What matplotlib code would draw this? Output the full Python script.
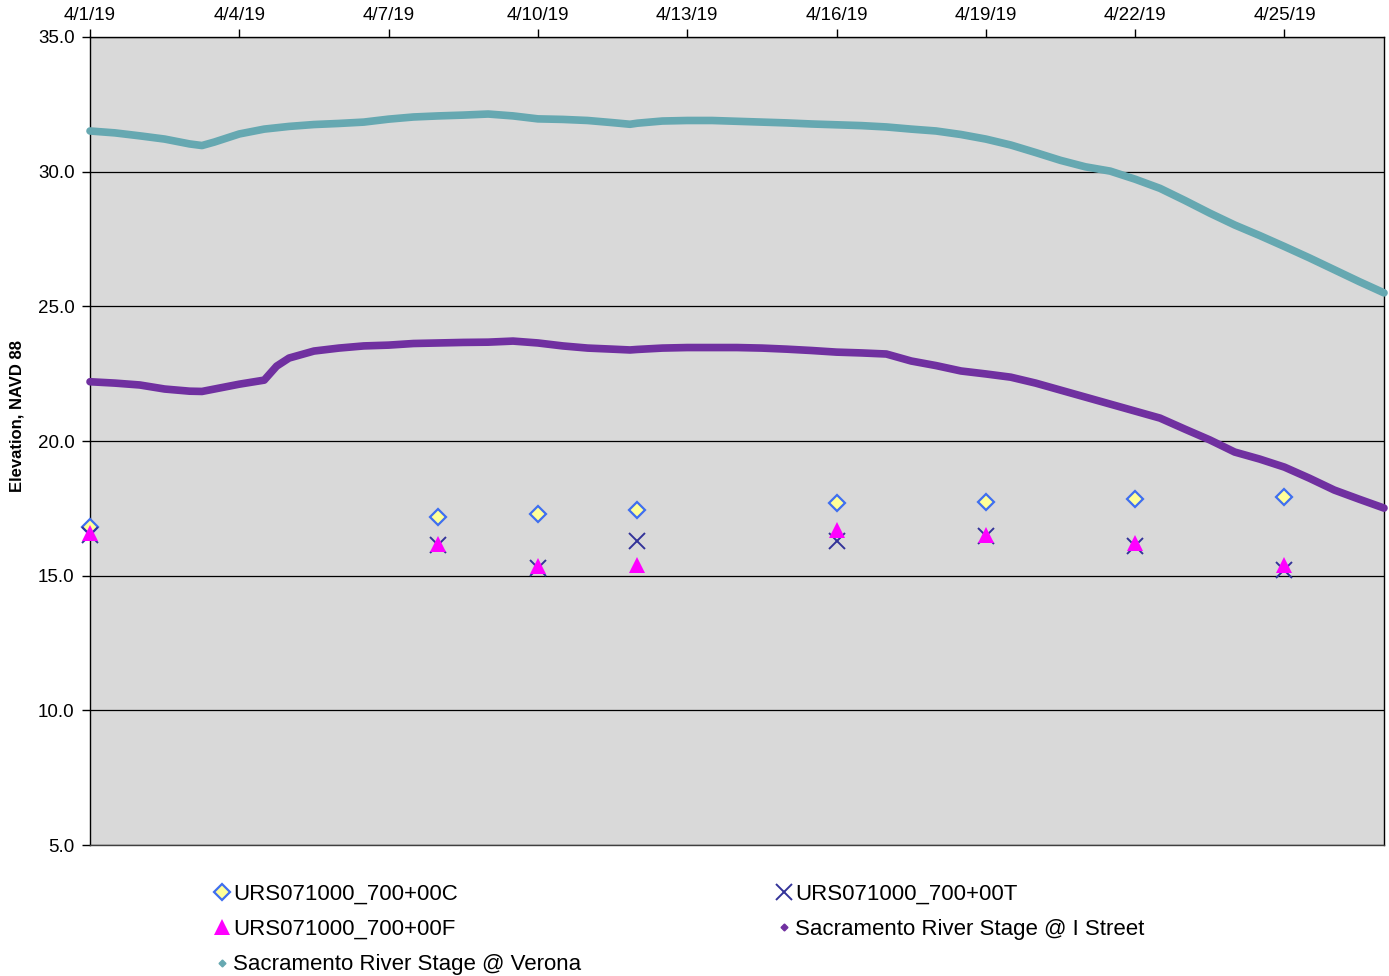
import datetime as dt
import matplotlib
matplotlib.use("Agg")
import matplotlib.pyplot as plt
import matplotlib.dates as mdates
from matplotlib.lines import Line2D

plt.rcParams["font.family"] = ["Liberation Sans", "DejaVu Sans"]

START = dt.datetime(2019, 4, 1)

# Continuous river stage records (days after 4/1/19, elevation ft NAVD 88)
stage_days = [0, 0.5, 1, 1.5, 2, 2.25, 2.5, 3, 3.5, 3.75, 4, 4.5, 5, 5.5, 6, 6.5, 7,
              7.5, 8, 8.5, 9, 9.5, 10, 10.5, 10.85, 11, 11.5, 12, 12.5, 13, 13.5,
              14, 14.5, 15, 15.5, 16, 16.5, 17, 17.5, 18, 18.5, 19, 19.5, 20, 20.5,
              21, 21.5, 22, 22.5, 23, 23.5, 24, 24.5, 25, 25.5, 26]
verona = [31.51, 31.44, 31.33, 31.21, 31.03, 30.97, 31.10, 31.40, 31.58, 31.63, 31.68,
          31.75, 31.79, 31.84, 31.95, 32.03, 32.07, 32.10, 32.14, 32.07, 31.96, 31.94,
          31.90, 31.82, 31.76, 31.80, 31.88, 31.90, 31.90, 31.87, 31.84, 31.81, 31.77,
          31.74, 31.71, 31.66, 31.58, 31.51, 31.38, 31.21, 30.99, 30.71, 30.42, 30.18,
          30.02, 29.72, 29.38, 28.93, 28.46, 28.02, 27.63, 27.22, 26.80, 26.36, 25.92,
          25.50]
i_street = [22.20, 22.15, 22.08, 21.93, 21.85, 21.84, 21.93, 22.11, 22.26, 22.78, 23.08,
            23.34, 23.45, 23.53, 23.56, 23.62, 23.64, 23.66, 23.67, 23.71, 23.64, 23.53,
            23.45, 23.41, 23.38, 23.40, 23.45, 23.47, 23.47, 23.47, 23.45, 23.41, 23.36,
            23.30, 23.27, 23.23, 22.97, 22.80, 22.60, 22.49, 22.37, 22.15, 21.89, 21.63,
            21.37, 21.11, 20.85, 20.44, 20.04, 19.59, 19.33, 19.03, 18.62, 18.18, 17.84,
            17.51]

# Well readings
well_days = [0, 7, 9, 11, 15, 18, 21, 24]
well_c = [16.81, 17.18, 17.29, 17.44, 17.70, 17.72, 17.84, 17.92]
well_t = [16.50, 16.14, 15.28, 16.28, 16.28, 16.47, 16.10, 15.20]
well_f = [16.58, 16.17, 15.36, 15.39, 16.69, 16.51, 16.21, 15.39]


def to_dates(days):
    return [START + dt.timedelta(days=d) for d in days]


stage_t = to_dates(stage_days)
well_tm = to_dates(well_days)

fig = plt.figure(figsize=(13.89, 9.76), dpi=100)
ax = fig.add_axes([0.0648, 0.1342, 0.9316, 0.8279])
ax.set_facecolor("#D9D9D9")

teal = "#66A8B1"
purple = "#7030A0"

ax.plot(stage_t, verona, color=teal, lw=5.5, solid_capstyle="round", zorder=3,
        clip_on=False)
ax.plot(stage_t, i_street, color=purple, lw=5.5, solid_capstyle="round", zorder=3,
        clip_on=False)

ax.plot(well_tm, well_c, ls="none", marker="D", ms=8, mfc="#FFFF99", mec="#3F6FF0",
        mew=1.6, zorder=4, clip_on=False)
ax.plot(well_tm, well_t, ls="none", marker="x", ms=11, mec="#333399", mew=1.4, zorder=5,
        clip_on=False)
ax.plot(well_tm, well_f, ls="none", marker="^", ms=11, mfc="#FF00FF", mec="#FF00FF",
        mew=0, zorder=6, clip_on=False)

# Axes setup
ax.set_xlim(START, START + dt.timedelta(days=26))
ax.set_ylim(5, 35)
ax.set_yticks([5, 10, 15, 20, 25, 30, 35])
ax.set_yticklabels([f"{v:.1f}" for v in [5, 10, 15, 20, 25, 30, 35]])
ax.yaxis.grid(True, color="black", lw=0.9)
ax.set_axisbelow(True)

ax.xaxis.tick_top()
ax.xaxis.set_major_locator(mdates.DayLocator(bymonthday=range(1, 32, 3)))
ax.xaxis.set_major_formatter(mdates.DateFormatter("%-m/%-d/%y"))
ax.tick_params(axis="x", direction="out", length=6, width=1, labelsize=13.5, pad=3)
ax.tick_params(axis="y", direction="out", length=6, width=1, labelsize=13.5, pad=5)

for side in ["left", "right"]:
    ax.spines[side].set_color("black")
    ax.spines[side].set_linewidth(1)
ax.spines["top"].set_linewidth(1)
ax.spines["bottom"].set_linewidth(1)
ax.spines["bottom"].set_color("#404040")

ax.set_ylabel("Elevation, NAVD 88", fontsize=12, fontweight="bold")
ax.yaxis.set_label_coords(-0.0505, 0.531)

# Legend (two separate columns)
h_c = Line2D([], [], ls="none", marker="D", ms=8, mfc="#FFFF99", mec="#3F6FF0", mew=1.6)
h_t = Line2D([], [], ls="none", marker="x", ms=11, mec="#333399", mew=1.4)
h_f = Line2D([], [], ls="none", marker="^", ms=11, mfc="#FF00FF", mec="#FF00FF", mew=0)
h_i = Line2D([], [], ls="none", marker="D", ms=3.5, mfc=purple, mec=purple)
h_v = Line2D([], [], ls="none", marker="D", ms=3.5, mfc=teal, mec=teal)

leg_kw = dict(loc="upper left", frameon=False, fontsize=16, handlelength=0.6,
              handletextpad=0.2, borderpad=0, borderaxespad=0, labelspacing=0.64)
fig.legend([h_c, h_f, h_v],
           ["URS071000_700+00C", "URS071000_700+00F", "Sacramento River Stage @ Verona"],
           bbox_to_anchor=(0.1548, 0.0943), **leg_kw)
fig.legend([h_t, h_i],
           ["URS071000_700+00T", "Sacramento River Stage @ I Street"],
           bbox_to_anchor=(0.5596, 0.0943), **leg_kw)

fig.savefig("out.png", dpi=100)
